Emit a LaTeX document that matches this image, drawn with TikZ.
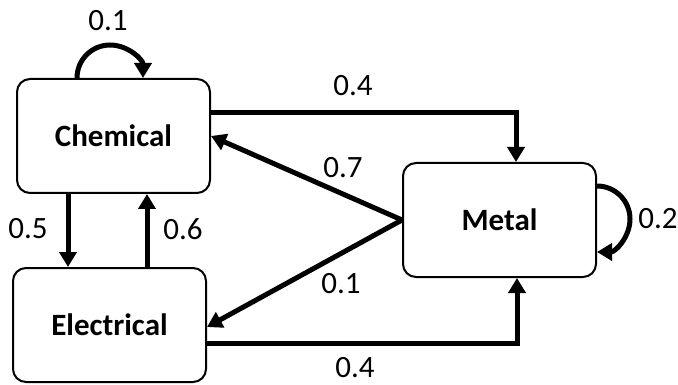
\documentclass[tikz,border=0pt]{standalone}
\usepackage{fontspec}
\setmainfont{Carlito}
\usetikzlibrary{arrows.meta}
\begin{document}
\begin{tikzpicture}[x=1pt,y=-1pt,
  statebox/.style={draw,line width=2pt,rounded corners=13pt,minimum width=193pt,minimum height=114pt,inner sep=0pt,font=\fontsize{31}{36}\selectfont\bfseries},
  arr/.style={line width=5pt,-{Triangle[length=15pt,width=17pt]}},
  lbl/.style={inner sep=0pt,font=\fontsize{31}{36}\selectfont}]
\useasboundingbox (0,0) rectangle (678,385);
\node[statebox] (chem) at (113.5,136) {Chemical};
\node[statebox] (elec) at (109.5,325) {Electrical};
\node[statebox] (metal) at (499.5,220) {Metal};
\coordinate (c1) at (516,113);
\coordinate (c2) at (517,343);
% self loops
\draw[arr] ([xshift=61pt]chem.north west) arc[start angle=180,end angle=0,radius=33pt];
\draw[arr] ([yshift=34pt]metal.east) arc[start angle=90,end angle=-90,radius=33pt];
% chem -> metal
\draw[arr] ([yshift=23pt]chem.east) -- (c1) -- (c1 |- metal.north);
% elec -> metal
\draw[arr] ([yshift=-18pt]elec.east) -- (c2) -- (c2 |- metal.south);
% metal -> chem, metal -> elec
\draw[arr] (metal.west) -- (chem.east);
\draw[arr] (metal.west) -- ([yshift=-2pt]elec.east);
% chem <-> elec
\draw[arr] (chem.south west -| 68,0) -- (elec.north west -| 68,0);
\draw[arr] (elec.north west -| 147,0) -- (chem.south west -| 147,0);
% labels
\node[lbl] (l1) at (108,21) {0.1};
\node[lbl] (l2) at (353,86) {0.4};
\node[lbl] (l3) at (343,168) {0.7};
\node[lbl] (l4) at (341,284) {0.1};
\node[lbl] (l5) at (28,229) {0.5};
\node[lbl] (l6) at (183,229) {0.6};
\node[lbl] (l7) at (355,368) {0.4};
\node[lbl] (l8) at (658,219) {0.2};
\end{tikzpicture}
\end{document}
